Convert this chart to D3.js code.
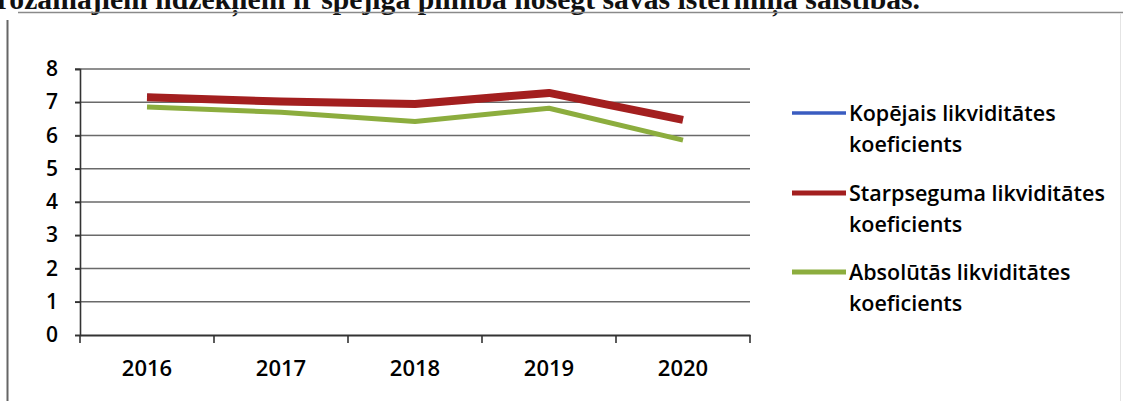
<!DOCTYPE html>
<html>
<head>
<meta charset="utf-8">
<script src="https://d3js.org/d3.v7.min.js"></script>
<style>
  body { margin: 0; background: #fff; }
  svg { display: block; }
</style>
</head>
<body>
<div id="chart"></div>
<script>
var svgWidth = 1123;
var svgHeight = 401;

// data
var years = ["2016", "2017", "2018", "2019", "2020"];
var kopejais = [7.2, 7.05, 6.98, 7.32, 6.5];
var starpseguma = [7.15, 7.02, 6.95, 7.28, 6.47];
var absolutas = [6.86, 6.7, 6.42, 6.82, 5.86];
var yTicks = [0, 1, 2, 3, 4, 5, 6, 7, 8];
var seriesNames = [
    ["Kopējais likviditātes", "koeficients"],
    ["Starpseguma likviditātes", "koeficients"],
    ["Absolūtās likviditātes", "koeficients"]
];
var headText = "apgrozāmajiem līdzekļiem ir spējīga pilnībā nosegt savas īstermiņa saistības.";

var series = [
    { name: seriesNames[0], values: kopejais, color: "#3a5cc0", width: 3.5 },
    { name: seriesNames[1], values: starpseguma, color: "#a31f1f", width: 8 },
    { name: seriesNames[2], values: absolutas, color: "#8cad3e", width: 5 }
];

var plot = { left: 80, right: 750, top: 69, bottom: 335 };

var svg = d3.select("#chart").append("svg")
    .attr("width", svgWidth).attr("height", svgHeight);

// cut-off sentence from the page above the chart
svg.append("text")
    .attr("x", -49.5).attr("y", 8.5)
    .attr("font-family", "Liberation Serif, serif")
    .attr("font-weight", "bold")
    .attr("font-size", 29.7)
    .attr("fill", "#111")
    .text(headText);

// chart frame
svg.append("line").attr("x1", 18).attr("x2", svgWidth).attr("y1", 12.5).attr("y2", 12.5)
    .attr("stroke", "#8a8a8a").attr("stroke-width", 1.5);
svg.append("line").attr("x1", 7.5).attr("x2", 7.5).attr("y1", 20).attr("y2", svgHeight)
    .attr("stroke", "#666").attr("stroke-width", 2);
svg.append("line").attr("x1", 1120.5).attr("x2", 1120.5).attr("y1", 13).attr("y2", svgHeight)
    .attr("stroke", "#e4e4e4").attr("stroke-width", 1);

var xScale = d3.scaleBand().domain(years).range([plot.left, plot.right]);
var yScale = d3.scaleLinear().domain([0, 8]).range([plot.bottom, plot.top]);

// gridlines
svg.append("g").selectAll("line").data(yTicks.slice(1)).join("line")
    .attr("x1", plot.left - 5).attr("x2", plot.right)
    .attr("y1", d => yScale(d)).attr("y2", d => yScale(d))
    .attr("stroke", "#6a6a6a").attr("stroke-width", 1.7);

// y axis
var yAxis = d3.axisLeft(yScale).tickValues(yTicks).tickSize(5).tickPadding(17);
var gy = svg.append("g").attr("transform", `translate(${plot.left}, 0)`).call(yAxis);
gy.select(".domain").attr("stroke", "#333").attr("stroke-width", 1.6);
gy.selectAll(".tick line").attr("stroke", "#333").attr("stroke-width", 1.6);
gy.selectAll(".tick text")
    .attr("font-family", "Open Sans, sans-serif").attr("font-weight", 600)
    .attr("font-size", 21).attr("fill", "#000");

// x axis
var xAxis = d3.axisBottom(xScale).tickSize(0).tickPadding(25);
var gx = svg.append("g").attr("transform", `translate(0, ${plot.bottom})`).call(xAxis);
gx.select(".domain").attr("stroke", "#333").attr("stroke-width", 1.8);
gx.selectAll(".tick text")
    .attr("font-family", "Open Sans, sans-serif").attr("font-weight", 600)
    .attr("font-size", 22).attr("fill", "#000");

// category boundary ticks
var bounds = years.map(d => xScale(d)).concat([plot.right]);
svg.append("g").selectAll("line").data(bounds).join("line")
    .attr("x1", d => d).attr("x2", d => d)
    .attr("y1", plot.bottom).attr("y2", plot.bottom + 8)
    .attr("stroke", "#333").attr("stroke-width", 1.6);

// lines
var line = d3.line()
    .x((d, i) => xScale(years[i]) + xScale.bandwidth() / 2)
    .y(d => yScale(d));

svg.append("g").selectAll("path").data(series).join("path")
    .attr("d", d => line(d.values))
    .attr("fill", "none")
    .attr("stroke", d => d.color)
    .attr("stroke-width", d => d.width)
    .attr("stroke-linejoin", "round");

// legend
var legendRows = [113, 193, 272];
var legend = svg.append("g").selectAll("g").data(series).join("g")
    .attr("transform", (d, i) => `translate(792, ${legendRows[i]})`);
legend.append("line")
    .attr("x1", 0).attr("x2", 54).attr("y1", 0).attr("y2", 0)
    .attr("stroke", d => d.color)
    .attr("stroke-width", d => Math.min(d.width, 5));
var lt = legend.append("text")
    .attr("font-family", "Open Sans, sans-serif").attr("font-weight", 600)
    .attr("font-size", 21.5).attr("fill", "#000");
lt.append("tspan").attr("x", 57).attr("y", 8).text(d => d.name[0]);
lt.append("tspan").attr("x", 57).attr("y", 39).text(d => d.name[1]);
</script>
</body>
</html>
